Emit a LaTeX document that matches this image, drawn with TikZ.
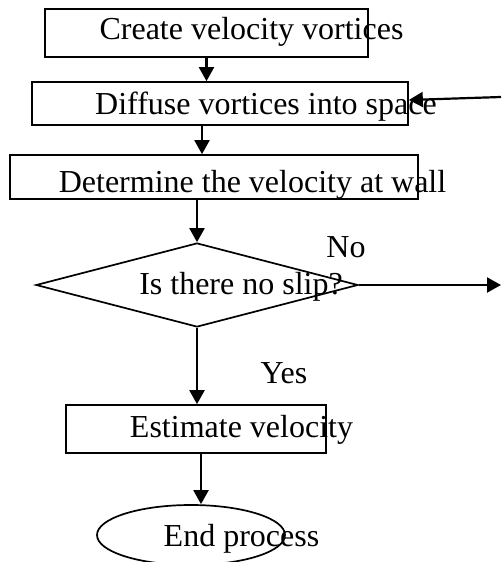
\documentclass[tikz,border=0pt]{standalone}
\usepackage{fontspec}
\setmainfont{Liberation Serif}
\usetikzlibrary{shapes.geometric, arrows.meta}
\tikzset{>={Triangle[length=14pt,width=15pt]}}
\tikzset{
  procbox/.style={draw, line width=1.7pt, inner sep=0pt},
  flowline/.style={->, line width=2.2pt},
  lbl/.style={anchor=base, inner sep=0pt, font=\fontsize{32}{38}\selectfont},
}

\begin{document}
\begin{tikzpicture}[x=1pt, y=-1pt]
   \useasboundingbox (0,0) rectangle (501,562);

    % Boxes
    \node[procbox, rectangle, minimum width=323pt, minimum height=48pt] (create) at (206.5,33) {};
    \node[procbox, rectangle, minimum width=376pt, minimum height=43pt] (diffuse) at (220,103.5) {};
    \node[procbox, rectangle, minimum width=408pt, minimum height=44pt] (wall) at (214,177) {};
    \node[procbox, diamond, minimum width=322pt, minimum height=84pt] (slip) at (197,285) {};
    \node[procbox, rectangle, minimum width=260pt, minimum height=48pt] (estimate) at (196,429) {};
    \node[procbox, ellipse, minimum width=188pt, minimum height=60pt] (endproc) at (191,535) {};

    % Texts
    \node[lbl] (createtxt) at (251.5,39) {Create velocity vortices};
    \node[lbl] (diffusetxt) at (266,114) {Diffuse vortices into space};
    \node[lbl] (walltxt) at (252.5,192) {Determine the velocity at wall};
    \node[lbl] (sliptxt) at (241,294) {Is there no slip?};
    \node[lbl] (notxt) at (346,257) {No};
    \node[lbl] (yestxt) at (284,383) {Yes};
    \node[lbl] (estimatetxt) at (241.5,437) {Estimate velocity};
    \node[lbl] (endtxt) at (241.5,546) {End process};

    \coordinate (loopin) at (501,97);
    \coordinate (noout) at (501,285);

    % Flow
    \draw[flowline] (create.south) -- (create.south |- diffuse.north);
    \draw[flowline] ([xshift=-18pt]diffuse.south) -- ([xshift=-18pt]diffuse.south |- wall.north);
    \draw[flowline] (wall.south -| slip.north) -- (slip.north);
    \draw[flowline] (slip.east) -- (noout);
    \draw[flowline] (loopin) -- ([yshift=3.5pt]diffuse.east);
    \draw[flowline] (slip.south) -- (slip.south |- estimate.north);
    \draw[flowline] ([xshift=5pt]estimate.south) -- ([xshift=5pt]estimate.south |- endproc.north);

\end{tikzpicture}
\end{document}
